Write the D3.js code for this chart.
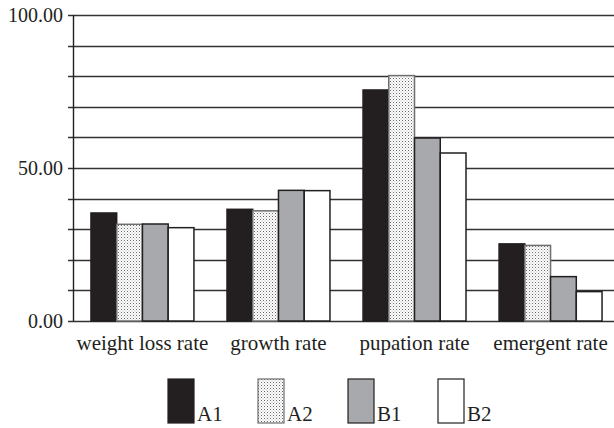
<!DOCTYPE html>
<html><head><meta charset="utf-8">
<script src="https://cdn.jsdelivr.net/npm/d3@7"></script>
<style>body{margin:0;background:#fff}svg{display:block}</style>
</head><body><svg id="c" width="614" height="428"></svg>
<script>
const categories = ["weight loss rate", "growth rate", "pupation rate", "emergent rate"];
const seriesNames = ["A1", "A2", "B1", "B2"];
const A1 = [35.3, 36.5, 75.5, 25.2];
const A2 = [31.6, 36.0, 80.2, 24.7];
const B1 = [31.7, 42.7, 59.8, 14.5];
const B2 = [30.5, 42.6, 54.9, 9.6];
const gridTicks = [0, 10, 20, 30, 40, 50, 60, 70, 80, 90, 100];
const labelTicks = [0, 50, 100];

const seriesValues = [A1, A2, B1, B2];
const fills = ["#231f20", "url(#dots)", "#a7a9ac", "#ffffff"];
const strokes = ["#231f20", "#6d6e71", "#231f20", "#231f20"];
const FONT = "'Liberation Serif', 'Times New Roman', Times, serif";

const svg = d3.select("#c");
const defs = svg.append("defs");
const pat = defs.append("pattern").attr("id", "dots").attr("patternUnits", "userSpaceOnUse")
  .attr("width", 3).attr("height", 3);
pat.append("rect").attr("width", 3).attr("height", 3).attr("fill", "#fff");
pat.append("rect").attr("x", 0).attr("y", 0).attr("width", 1).attr("height", 1).attr("fill", "#666");
pat.append("rect").attr("x", 1.5).attr("y", 1.5).attr("width", 1).attr("height", 1).attr("fill", "#aaa");

const x = d3.scaleBand().domain(categories).range([73, 620]).paddingInner(0.243).paddingOuter(0.132);
const xs = d3.scaleBand().domain(seriesNames).range([0, x.bandwidth()]);
const y = d3.scaleLinear().domain([0, 100]).range([321, 15]);

// gridlines
svg.append("g").selectAll("line").data(gridTicks).join("line")
  .attr("x1", 68).attr("x2", 614)
  .attr("y1", d => Math.round(y(d)) + 0.5).attr("y2", d => Math.round(y(d)) + 0.5)
  .attr("stroke", "#333").attr("stroke-width", 1.5);

// bars
const groups = svg.append("g").selectAll("g").data(categories).join("g")
  .attr("transform", d => `translate(${x(d)},0)`);
groups.selectAll("rect").data((c, ci) => seriesNames.map((s, si) => ({s, si, v: seriesValues[si][ci]})))
  .join("rect")
  .attr("x", d => xs(d.s)).attr("width", xs.bandwidth())
  .attr("y", d => y(d.v)).attr("height", d => y(0) - y(d.v))
  .attr("fill", d => fills[d.si]).attr("stroke", d => strokes[d.si]).attr("stroke-width", 1.5);

// y axis line
svg.append("line").attr("x1", 73.5).attr("x2", 73.5).attr("y1", y(100)).attr("y2", y(0))
  .attr("stroke", "#231f20").attr("stroke-width", 1.4);

// y labels
svg.append("g").selectAll("text").data(labelTicks).join("text")
  .attr("x", 63).attr("y", d => y(d)).attr("dy", "0.35em")
  .attr("text-anchor", "end").attr("font-size", 20).attr("font-family", FONT).attr("fill", "#231f20")
  .text(d => d3.format(".2f")(d));

// x labels
svg.append("g").selectAll("text").data(categories).join("text")
  .attr("x", d => x(d) + x.bandwidth() / 2).attr("y", 350)
  .attr("text-anchor", "middle").attr("font-size", 21).attr("font-family", FONT).attr("fill", "#231f20")
  .text(d => d);

// legend
const legendX = [168, 258, 348, 438];
const lg = svg.append("g").selectAll("g").data(seriesNames).join("g")
  .attr("transform", (d, i) => `translate(${legendX[i]},379)`);
lg.append("rect").attr("width", 26).attr("height", 44)
  .attr("fill", (d, i) => fills[i]).attr("stroke", (d, i) => strokes[i]).attr("stroke-width", 1.2);
lg.append("text").attr("x", 29).attr("y", 42).attr("font-size", 21).attr("font-family", FONT).attr("fill", "#231f20").text(d => d);
</script></body></html>
